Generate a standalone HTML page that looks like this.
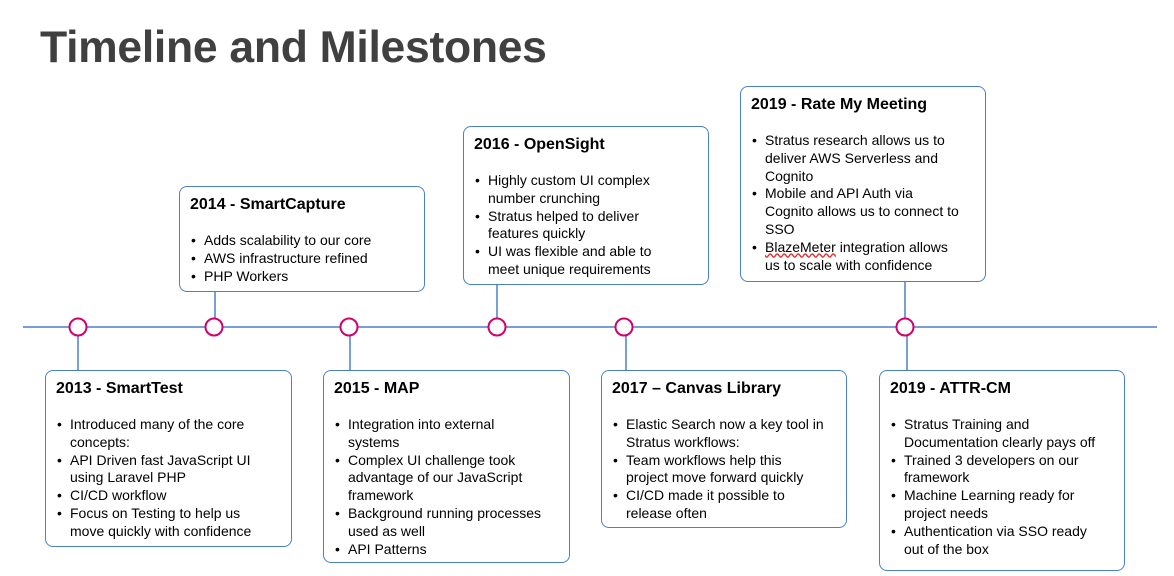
<!DOCTYPE html>
<html><head><meta charset="utf-8"><style>
body{margin:0;width:1174px;height:576px;background:#fff;position:relative;overflow:hidden;font-family:"Liberation Sans",Arial,sans-serif;}
h1{position:absolute;left:40px;top:24px;margin:0;font-size:44.5px;line-height:48px;font-weight:bold;color:#404040;letter-spacing:-0.3px}
.b{position:absolute;border:1.5px solid #4a7fc9;border-radius:8px;box-sizing:border-box;background:#fff;padding:8px 24px 0 10px}
.b h2{margin:0;font-size:16px;font-weight:bold;color:#000;line-height:20px}
.b ul{margin:17px 0 0 0;padding:0 0 0 14px;font-size:14px;line-height:17.8px;color:#000;list-style:none}
.b li{position:relative}
.b li::before{content:"•";position:absolute;left:-13px;top:0}
.nw li{white-space:nowrap}
svg{position:absolute;left:0;top:0}
</style></head><body>
<h1>Timeline and Milestones</h1>
<svg width="1174" height="576">
<g stroke="#4a7fc9" stroke-width="1.5">
<line x1="23" y1="327" x2="1157" y2="327"/>
<line x1="78" y1="336" x2="78" y2="370"/>
<line x1="215" y1="291" x2="215" y2="318"/>
<line x1="350" y1="336" x2="350" y2="370"/>
<line x1="497" y1="284" x2="497" y2="318"/>
<line x1="626" y1="336" x2="626" y2="370"/>
<line x1="905" y1="281" x2="905" y2="318"/>
<line x1="907" y1="336" x2="907" y2="370"/>
</g>
<g fill="#fff" stroke="#d4006a" stroke-width="2">
<circle cx="78" cy="327" r="8.5"/><circle cx="214" cy="327" r="8.5"/><circle cx="349" cy="327" r="8.5"/>
<circle cx="497" cy="327" r="8.5"/><circle cx="624" cy="327" r="8.5"/><circle cx="905" cy="327" r="8.5"/>
</g></svg>
<div class="b" style="left:45px;top:370px;width:247px;height:177px"><h2>2013 - SmartTest</h2><ul>
<li>Introduced many of the core concepts:</li><li>API Driven fast JavaScript UI using Laravel PHP</li><li>CI/CD workflow</li><li>Focus on Testing to help us move quickly with confidence</li></ul></div>
<div class="b" style="left:179px;top:186px;width:246px;height:106px"><h2>2014 - SmartCapture</h2><ul>
<li>Adds scalability to our core</li><li>AWS infrastructure refined</li><li>PHP Workers</li></ul></div>
<div class="b" style="left:323px;top:370px;width:247px;height:193px"><h2>2015 - MAP</h2><ul>
<li>Integration into external systems</li><li>Complex UI challenge took advantage of our JavaScript framework</li><li>Background running processes used as well</li><li>API Patterns</li></ul></div>
<div class="b" style="left:463px;top:126px;width:246px;height:159px"><h2>2016 - OpenSight</h2><ul>
<li>Highly custom UI complex number crunching</li><li>Stratus helped to deliver features quickly</li><li>UI was flexible and able to meet unique requirements</li></ul></div>
<div class="b nw" style="left:601px;top:370px;width:246px;height:158px;padding-right:4px"><h2>2017 – Canvas Library</h2><ul>
<li>Elastic Search now a key tool in<br>Stratus workflows:</li><li>Team workflows help this<br>project move forward quickly</li><li>CI/CD made it possible to<br>release often</li></ul></div>
<div class="b" style="left:740px;top:86px;width:246px;height:196px"><h2>2019 - Rate My Meeting</h2><ul>
<li>Stratus research allows us to deliver AWS Serverless and Cognito</li><li>Mobile and API Auth via Cognito allows us to connect to SSO</li><li><span style="text-decoration:underline wavy #e03030">BlazeMeter</span> integration allows us to scale with confidence</li></ul></div>
<div class="b" style="left:879px;top:370px;width:246px;height:201px"><h2>2019 - ATTR-CM</h2><ul>
<li>Stratus Training and Documentation clearly pays off</li><li>Trained 3 developers on our framework</li><li>Machine Learning ready for project needs</li><li>Authentication via SSO ready out of the box</li></ul></div>
</body></html>
